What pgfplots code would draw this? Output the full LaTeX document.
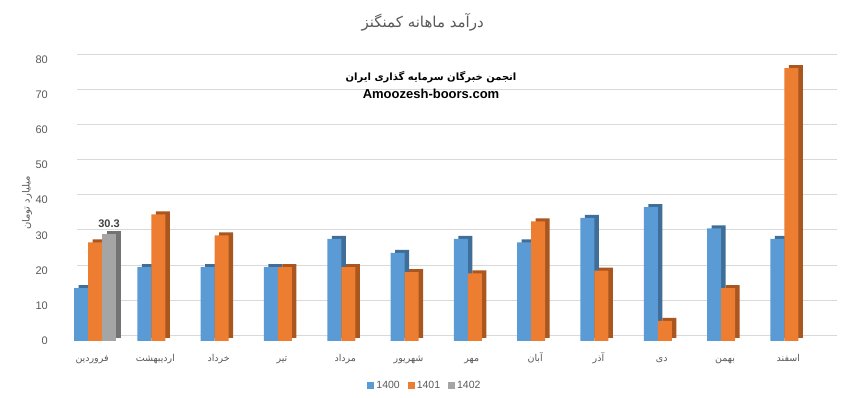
\documentclass[border=0pt]{standalone}
\usepackage{fontspec}
\setmainfont{Liberation Sans}
\newfontfamily\arabicfont[Script=Arabic]{DejaVu Sans}
\usepackage{pgfplots}
\pgfplotsset{compat=1.18}
\usepackage{pgfplotstable}
\TeXXeTstate=1
\definecolor{cA}{HTML}{5B9BD5}
\definecolor{cAd}{HTML}{3F6E99}
\definecolor{cB}{HTML}{ED7D31}
\definecolor{cBd}{HTML}{A9561F}
\definecolor{cC}{HTML}{A5A5A5}
\definecolor{cCd}{HTML}{737373}
\definecolor{txt}{HTML}{595959}
\definecolor{gridc}{HTML}{D9D9D9}

\pgfplotstableread{
x a b
0 15 28
1 21 36
2 21 30
3 21 21
4 29 21
5 25 19.6
6 29 19.2
7 28 34
8 35 20
9 38 5.7
10 32 15
11 29 77.5
}\datatable
\pgfplotstableread{
x c
0 30.3
}\datatablec

\begin{document}
\begin{tikzpicture}
\useasboundingbox (0,0) rectangle (859pt,398pt);
\begin{axis}[
  at={(63.4pt,57pt)}, anchor=south west,
  scale only axis, width=759.6pt, height=281.6pt,
  xmin=-0.5, xmax=11.5, ymin=0, ymax=80,
  clip=false,
  ybar, bar width=14pt,
  axis line style={draw=none},
  major tick length=0pt,
  tick style={draw=none},
  ytick={0,10,...,80},
  ymajorgrids,
  major grid style={draw=gridc, line width=0.8pt, yshift=5.5pt, xshift=14pt},
  xtick={0,...,11},
  xticklabels={
    {\arabicfont\beginR فروردین\endR},
    {\arabicfont\beginR اردیبهشت\endR},
    {\arabicfont\beginR خرداد\endR},
    {\arabicfont\beginR تیر\endR},
    {\arabicfont\beginR مرداد\endR},
    {\arabicfont\beginR شهریور\endR},
    {\arabicfont\beginR مهر\endR},
    {\arabicfont\beginR آبان\endR},
    {\arabicfont\beginR آذر\endR},
    {\arabicfont\beginR دی\endR},
    {\arabicfont\beginR بهمن\endR},
    {\arabicfont\beginR اسفند\endR}},
  xticklabel style={font=\fontsize{9.5}{11}\selectfont, text=txt, anchor=base, yshift=-21pt, xshift=-3pt},
  yticklabel style={font=\fontsize{11}{13}\selectfont, text=txt, xshift=-12pt},
  /pgf/number format/assume math mode=true,
  ylabel={\arabicfont\beginR میلیارد تومان\endR},
  ylabel style={at={(rel axis cs:-0.048,0.49)}, anchor=center, font=\fontsize{10}{12}\selectfont, text=txt},
  title={\arabicfont\beginR درآمد ماهانه کمنگنز\endR},
  title style={at={(rel axis cs:0.473,1.11)}, anchor=center, font=\fontsize{15}{17}\selectfont, text=txt},
  legend columns=3,
  legend style={at={(rel axis cs:0.476,-0.158)}, anchor=center, draw=none, fill=none,
    font=\fontsize{10.5}{12}\selectfont, text=txt,
    /tikz/every even column/.append style={column sep=6pt}},
  legend image code/.code={\fill[#1] (0pt,-3.5pt) rectangle (7pt,3.5pt);},
]
% 1400
\addplot[forget plot, fill=cAd, draw=none, bar shift=-9.5pt, yshift=3pt] table[x=x,y=a]{\datatable};
\addplot[fill=cA, draw=none, bar shift=-14pt] table[x=x,y=a]{\datatable};
% 1401
\addplot[forget plot, fill=cBd, draw=none, bar shift=4.5pt, yshift=3pt] table[x=x,y=b]{\datatable};
\addplot[fill=cB, draw=none, bar shift=0pt] table[x=x,y=b]{\datatable};
% 1402
\addplot[forget plot, fill=cCd, draw=none, bar shift=18.5pt, yshift=3pt] table[x=x,y=c]{\datatablec};
\addplot[fill=cC, draw=none, bar shift=14pt,
  nodes near coords,
  nodes near coords style={font=\bfseries\fontsize{11}{13}\selectfont, text=black!75, yshift=3pt,
    /pgf/number format/.cd, fixed, precision=1, fixed zerofill}] table[x=x,y=c]{\datatablec};
\legend{1400,1401,1402}
\node[font=\arabicfont\bfseries\fontsize{10}{12}\selectfont] at (rel axis cs:0.484,0.9375) {\beginR انجمن خبرگان سرمایه گذاری ایران\endR};
\node[font=\bfseries\fontsize{13}{15}\selectfont] at (rel axis cs:0.484,0.877) {Amoozesh-boors.com};
\end{axis}
\end{tikzpicture}
\end{document}
